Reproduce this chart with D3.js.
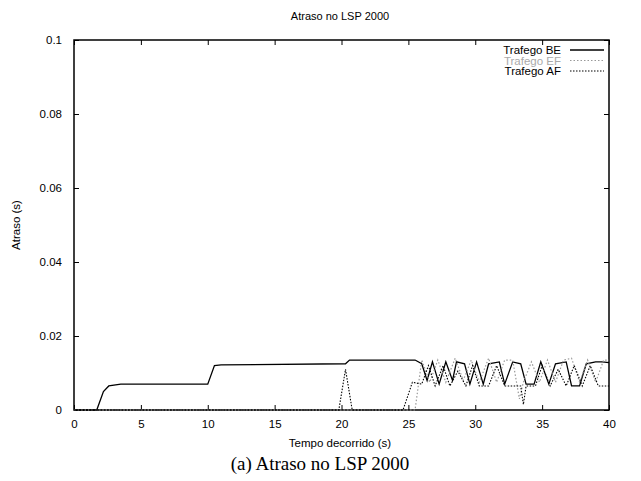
<!DOCTYPE html>
<html>
<head>
<meta charset="utf-8">
<script src="https://cdn.jsdelivr.net/npm/d3@7"></script>
<style>
  body { margin: 0; background: #fff; }
  svg text { font-family: "Liberation Sans", Arial, sans-serif; }
</style>
</head>
<body>
<div id="chart"></div>
<script>
// DATA
// ----------------------------------------
const X_TICKS = [0, 5, 10, 15, 20, 25, 30, 35, 40];
const Y_TICKS = [0, 0.02, 0.04, 0.06, 0.08, 0.1];
const Y_TICK_LABELS = ["0", "0.02", "0.04", "0.06", "0.08", "0.1"];

const SERIES_NAMES = ["Trafego BE", "Trafego EF", "Trafego AF"];

const BE_DATA = [[0,0],[1.7,0],[2.2,0.005],[2.6,0.0065],[3.5,0.007],[10,0.007],[10.5,0.012],[11,0.0122],
  [20.3,0.0125],[20.6,0.0135],[25.5,0.0135],[26,0.0125],[26.4,0.008],[26.8,0.013],[27.3,0.007],[27.8,0.013],
  [28.3,0.008],[28.6,0.013],[29.2,0.0125],[29.6,0.007],[30.1,0.013],[30.6,0.007],[31,0.0125],[31.8,0.013],
  [32.2,0.007],[32.8,0.013],[33.4,0.0125],[33.8,0.007],[34.4,0.007],[34.9,0.013],[35.5,0.007],[36,0.0125],
  [36.8,0.013],[37.2,0.0065],[37.8,0.0065],[38.3,0.0125],[39,0.013],[39.5,0.013],[40,0.0128]];

const EF_DATA = [[0,0],[25.5,0],[26,0.0135],[26.6,0.0075],[27.2,0.0135],[27.8,0.0075],[28.5,0.014],
  [29.1,0.008],[29.7,0.0135],[30.3,0.0075],[31,0.014],[31.6,0.0075],[32.2,0.0135],[32.8,0.0135],[33.3,0.003],
  [33.6,0.0075],[34.2,0.013],[34.8,0.0075],[35.4,0.0135],[36,0.0075],[36.6,0.0135],[37.2,0.014],[37.8,0.0075],
  [38.4,0.0135],[39,0.0075],[39.6,0.0135],[40,0.0135]];

const AF_DATA = [[0,0],[19.8,0],[20.3,0.011],[20.8,0],[24.6,0],[25.3,0.0075],[26,0.007],[26.5,0.012],
  [27,0.0065],[27.6,0.012],[28.1,0.0065],[28.7,0.0105],[29.3,0.0065],[29.8,0.012],[30.3,0.0065],[31,0.0065],
  [31.6,0.012],[32.2,0.0065],[32.8,0.0065],[33.4,0.0065],[33.6,0.0015],[33.8,0.0065],[34.5,0.0065],[35,0.012],
  [35.6,0.0065],[36.2,0.011],[36.8,0.0065],[37.4,0.012],[38,0.0065],[38.6,0.012],[39.2,0.0065],[40,0.0065]];

// LAYOUT
// ----------------------------------------
const WIDTH = 641, HEIGHT = 481;
const MARGIN = { left: 74, right: 32, top: 40, bottom: 71 };

const svg = d3.select("#chart").append("svg")
  .attr("width", WIDTH)
  .attr("height", HEIGHT);

const x = d3.scaleLinear().domain([0, 40]).range([MARGIN.left, WIDTH - MARGIN.right]);
const y = d3.scaleLinear().domain([0, 0.1]).range([HEIGHT - MARGIN.bottom, MARGIN.top]);

// Axes (ticks inward on all four sides)
const TICK = 5;
svg.append("g")
  .attr("transform", `translate(0,${y(0)})`)
  .call(d3.axisBottom(x).tickValues(X_TICKS).tickSize(-TICK).tickPadding(10))
  .call(g => g.select(".domain").remove());
svg.append("g")
  .attr("transform", `translate(0,${y(0.1)})`)
  .call(d3.axisTop(x).tickValues(X_TICKS).tickSize(-TICK).tickFormat(""))
  .call(g => g.select(".domain").remove());
svg.append("g")
  .attr("transform", `translate(${x(0)},0)`)
  .call(d3.axisLeft(y).tickValues(Y_TICKS).tickSize(-TICK).tickPadding(12)
    .tickFormat((d, i) => Y_TICK_LABELS[i]))
  .call(g => g.select(".domain").remove());
svg.append("g")
  .attr("transform", `translate(${x(40)},0)`)
  .call(d3.axisRight(y).tickValues(Y_TICKS).tickSize(-TICK).tickFormat(""))
  .call(g => g.select(".domain").remove());

svg.selectAll(".tick text").attr("font-size", 11.5).attr("fill", "#000");
svg.selectAll(".tick line").attr("stroke", "#000");

// Frame
svg.append("rect")
  .attr("x", x(0)).attr("y", y(0.1))
  .attr("width", x(40) - x(0)).attr("height", y(0) - y(0.1))
  .attr("fill", "none").attr("stroke", "#000").attr("stroke-width", 1.5);

// Lines
const line = d3.line().x(d => x(d[0])).y(d => y(d[1]));
const STYLES = [
  { data: BE_DATA, stroke: "#000", dash: null, width: 1.3 },
  { data: EF_DATA, stroke: "#999", dash: "1.5,2", width: 1.2 },
  { data: AF_DATA, stroke: "#000", dash: "1.5,1.5", width: 1.1 }
];
STYLES.forEach(s => {
  svg.append("path")
    .datum(s.data)
    .attr("d", line)
    .attr("fill", "none")
    .attr("stroke", s.stroke)
    .attr("stroke-width", s.width)
    .attr("stroke-dasharray", s.dash);
});

// Legend
const legend = svg.append("g");
SERIES_NAMES.forEach((name, i) => {
  const ly = 50 + i * 10.5;
  legend.append("text")
    .attr("x", 561).attr("y", ly + 4)
    .attr("text-anchor", "end")
    .attr("font-size", 11.5)
    .attr("fill", i === 1 ? "#aaa" : "#000")
    .text(name);
  legend.append("line")
    .attr("x1", 570).attr("x2", 604)
    .attr("y1", ly).attr("y2", ly)
    .attr("stroke", STYLES[i].stroke)
    .attr("stroke-width", STYLES[i].width)
    .attr("stroke-dasharray", STYLES[i].dash);
});

// Titles
svg.append("text")
  .attr("x", 340).attr("y", 20)
  .attr("text-anchor", "middle").attr("font-size", 11)
  .text("Atraso no LSP 2000");
svg.append("text")
  .attr("x", 340).attr("y", 447)
  .attr("text-anchor", "middle").attr("font-size", 11.5)
  .text("Tempo decorrido (s)");
svg.append("text")
  .attr("transform", `translate(20,${(y(0) + y(0.1)) / 2}) rotate(-90)`)
  .attr("text-anchor", "middle").attr("font-size", 11.5)
  .text("Atraso (s)");
svg.append("text")
  .attr("x", 320).attr("y", 470)
  .attr("text-anchor", "middle").attr("font-size", 19)
  .style("font-family", "'Liberation Serif', 'Times New Roman', serif")
  .text("(a) Atraso no LSP 2000");
</script>
</body>
</html>
